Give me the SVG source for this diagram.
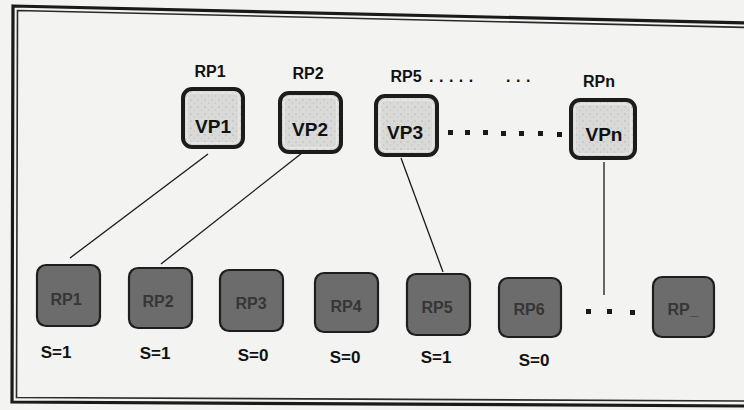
<svg xmlns="http://www.w3.org/2000/svg" width="744" height="410" viewBox="0 0 744 410">
<defs>
<pattern id="dots" width="7" height="7" patternUnits="userSpaceOnUse">
<rect width="7" height="7" fill="#d9d9d7"/>
<circle cx="2" cy="2" r="0.6" fill="#9a9a98"/>
<circle cx="5.5" cy="5" r="0.5" fill="#b0b0ae"/>
</pattern>
</defs>
<style>
.bg{fill:#f3f3f1}
.frame-o{fill:none;stroke:#1a1a1a;stroke-width:3.2}
.frame-i{fill:none;stroke:#2a2a2a;stroke-width:1.6}
.vp-o{fill:url(#dots);stroke:#1c1c1c;stroke-width:4}
.vp-i{fill:none;stroke:#f0f0f0;stroke-width:1}
.vp-t{font-family:"Liberation Sans",Arial,sans-serif;font-weight:bold;font-size:19px;fill:#111;text-anchor:middle}
.lbl{font-family:"Liberation Sans",Arial,sans-serif;font-weight:bold;font-size:16px;fill:#111;text-anchor:middle}
.dt{font-family:"Liberation Sans",Arial,sans-serif;font-weight:bold;font-size:16px;fill:#111;letter-spacing:5.5px}
.rp{fill:#6c6c6c;stroke:#1e1e1e;stroke-width:2.2}
.rp-t{font-family:"Liberation Sans",Arial,sans-serif;font-weight:bold;font-size:16px;fill:#363636;text-anchor:middle}
.s{font-family:"Liberation Sans",Arial,sans-serif;font-weight:bold;font-size:17px;fill:#111;text-anchor:middle}
.conn{stroke:#1a1a1a;stroke-width:1.3;fill:none}
.dot{fill:#1a1a1a}
</style>
<rect class="bg" x="0" y="0" width="744" height="410"/>
<g id="frame">
<polygon class="frame-o" points="13,6 748,23 748,406 12,402"/>
<polygon class="frame-i" points="17.5,10.5 748,27.5 748,401 16.5,397.5"/>
</g>
<g id="connectors">
<line class="conn" x1="208" y1="154" x2="70" y2="258"/>
<line class="conn" x1="302" y1="153" x2="161" y2="264"/>
<line class="conn" x1="401" y1="158" x2="443" y2="272"/>
<line class="conn" x1="604" y1="162" x2="604" y2="295"/>
</g>
<g id="top-labels">
<text class="lbl" x="210" y="77">RP1</text>
<text class="lbl" x="308" y="79">RP2</text>
<text class="lbl" x="406" y="82">RP5</text>
<text class="dt" x="429" y="82">.....</text>
<text class="dt" x="506" y="82">...</text>
<text class="lbl" x="599" y="87">RPn</text>
</g>
<g id="VP1">
<rect class="vp-o" x="183" y="89" width="60" height="58" rx="9"/>
<rect class="vp-i" x="187" y="93" width="52" height="50" rx="6"/>
<text class="vp-t" x="213" y="133">VP1</text>
</g>
<g id="VP2">
<rect class="vp-o" x="280" y="93" width="61" height="59" rx="9"/>
<rect class="vp-i" x="284" y="97" width="53" height="51" rx="6"/>
<text class="vp-t" x="310" y="136">VP2</text>
</g>
<g id="VP3">
<rect class="vp-o" x="376" y="96" width="61" height="59" rx="9"/>
<rect class="vp-i" x="380" y="100" width="53" height="51" rx="6"/>
<text class="vp-t" x="405" y="139">VP3</text>
</g>
<g id="VPn">
<rect class="vp-o" x="571" y="100" width="64" height="58" rx="9"/>
<rect class="vp-i" x="575" y="104" width="56" height="50" rx="6"/>
<text class="vp-t" x="604" y="141">VPn</text>
</g>
<g id="vp-dots">
<rect class="dot" x="448" y="130" width="5" height="5"/>
<rect class="dot" x="465" y="130" width="5" height="5"/>
<rect class="dot" x="483" y="130" width="5" height="5"/>
<rect class="dot" x="501" y="131" width="5" height="5"/>
<rect class="dot" x="519" y="131" width="5" height="5"/>
<rect class="dot" x="538" y="131" width="5" height="5"/>
<rect class="dot" x="557" y="132" width="5" height="5"/>
</g>
<g id="RP1">
<rect class="rp" x="37" y="265" width="63" height="61" rx="9"/>
<text class="rp-t" x="66" y="305">RP1</text>
</g>
<g id="RP2">
<rect class="rp" x="129" y="268" width="63" height="60" rx="9"/>
<text class="rp-t" x="158" y="307">RP2</text>
</g>
<g id="RP3">
<rect class="rp" x="220" y="270" width="63" height="61" rx="9"/>
<text class="rp-t" x="251" y="309">RP3</text>
</g>
<g id="RP4">
<rect class="rp" x="315" y="273" width="63" height="59" rx="9"/>
<text class="rp-t" x="346" y="312">RP4</text>
</g>
<g id="RP5">
<rect class="rp" x="407" y="274" width="63" height="61" rx="9"/>
<text class="rp-t" x="437" y="313">RP5</text>
</g>
<g id="RP6">
<rect class="rp" x="499" y="278" width="62" height="59" rx="9"/>
<text class="rp-t" x="529" y="315">RP6</text>
</g>
<g id="rp-dots">
<rect class="dot" x="586" y="309" width="5" height="5"/>
<rect class="dot" x="607" y="309" width="5" height="5"/>
<rect class="dot" x="630" y="310" width="5" height="5"/>
</g>
<g id="RPx">
<rect class="rp" x="653" y="277" width="61" height="60" rx="9"/>
<text class="rp-t" x="683" y="315">RP_</text>
</g>
<g id="s-labels">
<text class="s" x="56" y="358">S=1</text>
<text class="s" x="155" y="359">S=1</text>
<text class="s" x="253" y="361">S=0</text>
<text class="s" x="345" y="363">S=0</text>
<text class="s" x="436" y="363">S=1</text>
<text class="s" x="534" y="366">S=0</text>
</g>
</svg>
